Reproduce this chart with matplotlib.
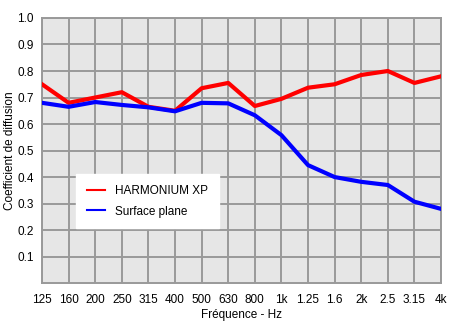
import numpy as np
import matplotlib.pyplot as plt

plt.rcParams['font.family'] = ['Liberation Sans', 'DejaVu Sans']

# third-octave bands
freq_labels = ['125', '160', '200', '250', '315', '400', '500', '630', '800',
               '1k', '1.25', '1.6', '2k', '2.5', '3.15', '4k']
harmonium = [0.75, 0.68, 0.70, 0.72, 0.665, 0.65, 0.735, 0.755, 0.668,
             0.695, 0.737, 0.75, 0.785, 0.80, 0.755, 0.78]
plane = [0.68, 0.665, 0.683, 0.672, 0.663, 0.648, 0.68, 0.678, 0.633,
         0.558, 0.445, 0.40, 0.382, 0.37, 0.307, 0.28]
y_ticks = [0.1, 0.2, 0.3, 0.4, 0.5, 0.6, 0.7, 0.8, 0.9, 1.0]

x = np.arange(len(freq_labels))

fig = plt.figure(figsize=(4.7, 3.21), dpi=100)
ax = fig.add_axes([0.0894, 0.118, 0.849, 0.826])
ax.set_facecolor('#e6e6e6')

ax.plot(x, harmonium, color='#ff0000', lw=3, label='HARMONIUM XP', zorder=3)
ax.plot(x, plane, color='#0000ff', lw=3, label='Surface plane', zorder=3)

ax.set_xlim(0, len(freq_labels) - 1)
ax.set_ylim(0, 1.0)
ax.set_xticks(x)
ax.set_xticklabels(freq_labels)
ax.set_yticks(y_ticks)
ax.set_yticklabels(['%.1f' % v for v in y_ticks])
ax.grid(True, color='#999999', lw=1.4)
ax.set_axisbelow(True)
for s in ax.spines.values():
    s.set_color('#999999')
    s.set_linewidth(1.4)
ax.tick_params(length=0, labelsize=8.5, pad=8)
ax.tick_params(axis='y', pad=6)

ax.set_xlabel('Fréquence - Hz', fontsize=8.5, labelpad=2)
ax.set_ylabel('Coefficient de diffusion', fontsize=8.5, labelpad=1)

leg = ax.legend(loc='lower left', bbox_to_anchor=(0.085, 0.207), fontsize=8.5,
                frameon=True, fancybox=False, framealpha=1, edgecolor='white',
                handlelength=1.6, handletextpad=0.8, borderpad=0.9,
                labelspacing=0.75, borderaxespad=0)
for h in leg.get_lines():
    h.set_linewidth(1.5)

fig.savefig('out.png', dpi=100)
